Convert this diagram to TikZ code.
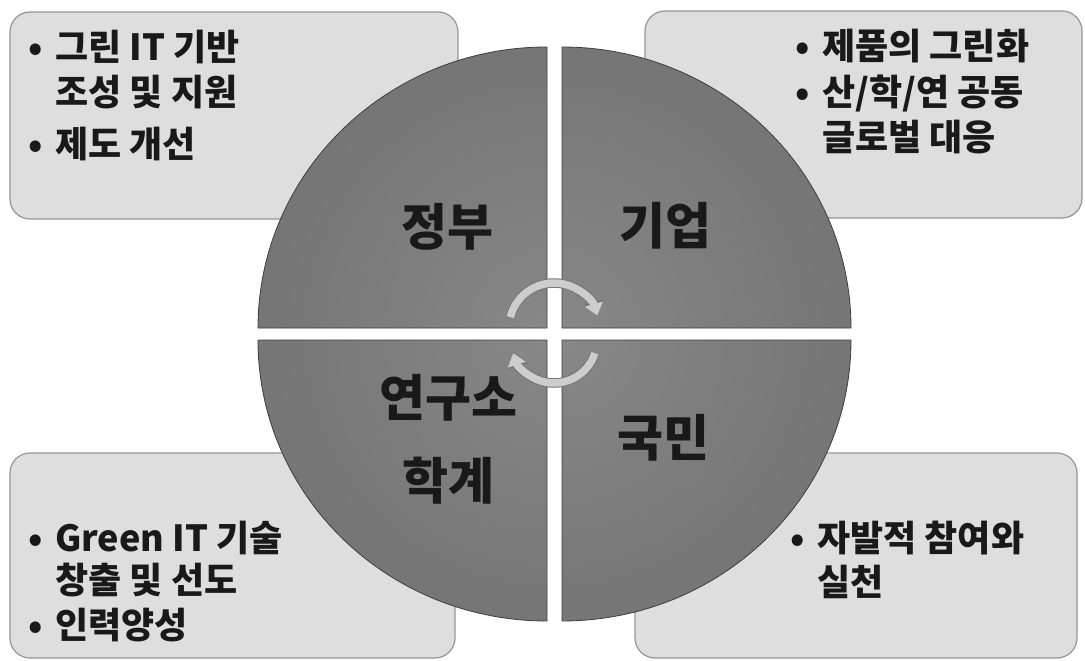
\documentclass[tikz,border=0pt]{standalone}
\usepackage{fontspec}
\newfontfamily\kr{Noto Sans CJK KR}
\usetikzlibrary{arrows.meta}
\definecolor{boxfill}{RGB}{222,222,222}
\definecolor{boxline}{RGB}{150,150,150}
\definecolor{qlight}{RGB}{136,136,136}
\definecolor{qmid}{RGB}{116,116,116}
\definecolor{qdark}{RGB}{84,84,84}
\definecolor{qedge}{RGB}{62,62,62}
\definecolor{arrowc}{RGB}{205,205,205}
\definecolor{arrowe}{RGB}{120,120,120}
\definecolor{txt}{RGB}{25,25,25}
\pgfdeclareradialshading{quadshade}{\pgfpoint{0bp}{0bp}}{%
  color(0bp)=(qlight); color(25bp)=(qmid); color(41bp)=(qdark); color(46bp)=(qedge); color(72bp)=(qedge)}
\tikzset{
  infobox/.style={fill=boxfill, draw=boxline, line width=1.2pt, rounded corners=20pt},
  quad/.style={draw=qedge, line width=0.8pt},
  boxtext/.style={font=\kr\bfseries\fontsize{36}{40}\selectfont, text=txt, inner sep=0pt, anchor=base west},
  labtext/.style={font=\kr\bfseries\fontsize{50}{83}\selectfont, text=txt, inner sep=0pt, align=center},
  cycarrow/.style={line width=7.5pt, draw=arrowc, -{Triangle[width=18pt,length=12pt]}},
  cycedge/.style={line width=9.5pt, draw=arrowe, -{Triangle[width=21pt,length=14pt]}}
}
\newcommand{\bul}{\makebox[27pt][l]{•}}
\begin{document}
\begin{tikzpicture}[x=1pt,y=-1pt]
\useasboundingbox (0,0) rectangle (1085,661);
\fill[white] (0,0) rectangle (1085,661);
% boxes
\path[infobox] (10,12) rectangle (458,219);
\path[infobox] (645,11) rectangle (1082,218);
\path[infobox] (10,453) rectangle (455,658);
\path[infobox] (635,453) rectangle (1077,658);
% quadrants
\coordinate (cc) at (554.5,334);
\begin{scope}
\clip (258,328) arc[start angle=180, end angle=270, x radius=289, y radius=281] -- (547,328) -- cycle;
\shade[shading=quadshade] (cc) circle (320pt);
\end{scope}
\draw[quad] (258,328) arc[start angle=180, end angle=270, x radius=289, y radius=281] -- (547,328) -- cycle;
\begin{scope}
\clip (562,47) arc[start angle=270, end angle=360, x radius=289, y radius=281] -- (562,328) -- cycle;
\shade[shading=quadshade] (cc) circle (320pt);
\end{scope}
\draw[quad] (562,47) arc[start angle=270, end angle=360, x radius=289, y radius=281] -- (562,328) -- cycle;
\begin{scope}
\clip (851,340) arc[start angle=0, end angle=90, x radius=289, y radius=281] -- (562,340) -- cycle;
\shade[shading=quadshade] (cc) circle (320pt);
\end{scope}
\draw[quad] (851,340) arc[start angle=0, end angle=90, x radius=289, y radius=281] -- (562,340) -- cycle;
\begin{scope}
\clip (547,621) arc[start angle=90, end angle=180, x radius=289, y radius=281] -- (547,340) -- cycle;
\shade[shading=quadshade] (cc) circle (320pt);
\end{scope}
\draw[quad] (547,621) arc[start angle=90, end angle=180, x radius=289, y radius=281] -- (547,340) -- cycle;
% cycle arrows
\draw[cycedge] (554,328) ++(194:45) arc[start angle=194, end angle=344, radius=45];
\draw[cycarrow] (554,328) ++(194:45) arc[start angle=194, end angle=344, radius=45];
\draw[cycedge] (554,340) ++(18:43) arc[start angle=18, end angle=162, radius=43];
\draw[cycarrow] (554,340) ++(18:43) arc[start angle=18, end angle=162, radius=43];
% labels
\node[labtext] (gov) at (447,227) {정부};
\node[labtext] (biz) at (665,226) {기업};
\node[labtext] (lab) at (448,439) {연구소\\학계};
\node[labtext] (pub) at (663,438) {국민};
% box texts
\node[boxtext] (tl1) at (28,61) {\bul 그린 IT 기반};
\node[boxtext] (tl2) at (55,106) {조성 및 지원};
\node[boxtext] (tl3) at (28,157) {\bul 제도 개선};
\node[boxtext] (tr1) at (795,60) {\bul 제품의 그린화};
\node[boxtext] (tr2) at (795,106) {\bul 산/학/연 공동};
\node[boxtext] (tr3) at (822,150) {글로벌 대응};
\node[boxtext] (bl1) at (28,551) {\bul Green IT 기술};
\node[boxtext] (bl2) at (55,593) {창출 및 선도};
\node[boxtext] (bl3) at (28,638) {\bul 인력양성};
\node[boxtext] (br1) at (790,551) {\bul 자발적 참여와};
\node[boxtext] (br2) at (817,595) {실천};
\end{tikzpicture}
\end{document}
